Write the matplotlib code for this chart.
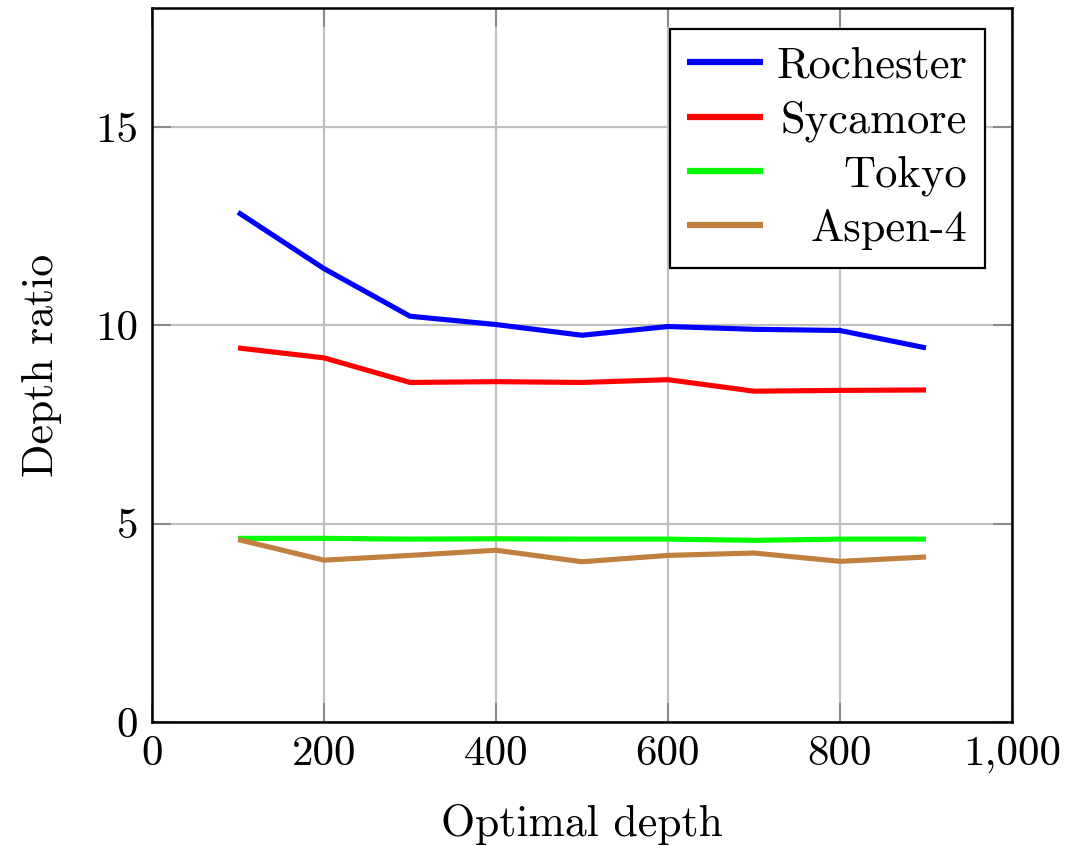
import matplotlib
matplotlib.use("Agg")
import matplotlib.pyplot as plt

plt.rcParams['font.family'] = ['cmr10', 'DejaVu Serif']
plt.rcParams['axes.unicode_minus'] = False
plt.rcParams['mathtext.fontset'] = 'cm'

depth = [100, 200, 300, 400, 500, 600, 700, 800, 900]
rochester = [12.85, 11.43, 10.23, 10.02, 9.75, 9.97, 9.90, 9.87, 9.43]
sycamore = [9.43, 9.18, 8.56, 8.58, 8.56, 8.63, 8.34, 8.36, 8.37]
tokyo = [4.63, 4.63, 4.61, 4.62, 4.61, 4.61, 4.58, 4.61, 4.61]
aspen4 = [4.60, 4.08, 4.20, 4.33, 4.04, 4.20, 4.26, 4.05, 4.16]

series_names = ["Rochester", "Sycamore", "Tokyo", "Aspen-4"]
series_colors = ["#0000ff", "#ff0000", "#00ff00", "#bf8040"]

xticks = [0, 200, 400, 600, 800, 1000]
xticklabels = ["0", "200", "400", "600", "800", "1,000"]
yticks = [0, 5, 10, 15]
yticklabels = ["0", "5", "10", "15"]

fig = plt.figure(figsize=(10.87, 8.46), dpi=100)
ax = fig.add_axes([152/1087, 1 - 722/846, (1012-152)/1087, (722-8)/846])

for vals, name, col in zip([rochester, sycamore, tokyo, aspen4], series_names, series_colors):
    ax.plot(depth, vals, color=col, lw=3.7, label=name, solid_capstyle='butt', zorder=3)

ax.set_xlim(0, 1000)
ax.set_ylim(0, 18)
ax.set_xticks(xticks)
ax.set_xticklabels(xticklabels)
ax.set_yticks(yticks)
ax.set_yticklabels(yticklabels)
ax.grid(True, color='#c0c0c0', lw=1.6, zorder=0)
ax.set_axisbelow(True)
ax.tick_params(direction='in', length=14, width=1.2, color='#808080',
               top=True, right=True, labelsize=31, pad=10)
for s in ax.spines.values():
    s.set_linewidth(1.8)
    s.set_color('black')

ax.set_xlabel("Optimal depth", fontsize=31.5, labelpad=22)
ax.set_ylabel("Depth ratio", fontsize=31.5, labelpad=24)

leg = ax.legend(loc='upper right', bbox_to_anchor=(0.9686, 0.9706), fontsize=32,
                handlelength=1.7, handletextpad=0.3, labelspacing=0.3,
                borderpad=0.4, fancybox=False, framealpha=1, edgecolor='black',
                borderaxespad=0)
leg.get_frame().set_linewidth(1.6)
for h in leg.get_lines():
    h.set_linewidth(4.5)

fig.canvas.draw()
r = fig.canvas.get_renderer()
widths = [t.get_window_extent(r).width for t in leg.get_texts()]
mw = max(widths)
for t, w in zip(leg.get_texts(), widths):
    t.set_position((mw - w, 0))

fig.savefig("out.png", dpi=100)
